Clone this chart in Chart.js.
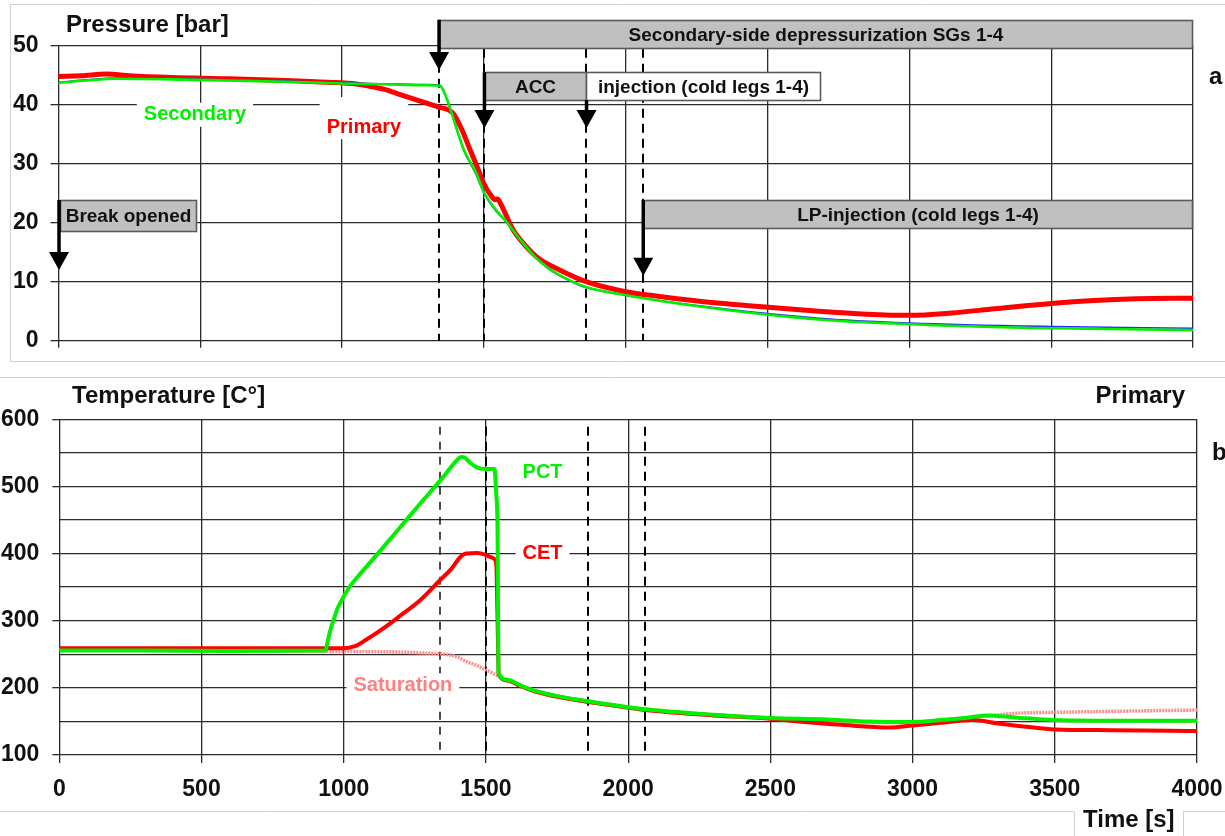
<!DOCTYPE html>
<html>
<head>
<meta charset="utf-8">
<title>Pressure / Temperature transient</title>
<script src="https://cdn.jsdelivr.net/npm/chart.js@4.4.1/dist/chart.umd.min.js"></script>
<style>
  html, body { margin: 0; padding: 0; background: #fff; }
  #wrap { position: relative; width: 1225px; height: 836px; overflow: hidden; }
  #wrap canvas { position: absolute; left: 0; }
</style>
</head>
<body>
<div id="wrap">
  <canvas id="pressChart" width="1225" height="370" style="top:0"></canvas>
  <canvas id="tempChart" width="1225" height="466" style="top:370px"></canvas>
</div>
<script>
// ---- axis ticks ----
const timeTicks = [0, 500, 1000, 1500, 2000, 2500, 3000, 3500, 4000];
const pressTicks = [0, 10, 20, 30, 40, 50];
const tempTicks = [100, 150, 200, 250, 300, 350, 400, 450, 500, 550, 600];
const tempTickLabels = ['100', '', '200', '', '300', '', '400', '', '500', '', '600'];

// ---- events [s] ----
const eventTimes = [1340, 1500, 1860, 2060];

// ---- (a) pressure [bar] ----
const primTime = [0, 80, 170, 250, 400, 600, 800, 950, 1050, 1090, 1150, 1205, 1275, 1340, 1390, 1420, 1450, 1480, 1500,
  1525, 1540, 1548, 1558, 1575, 1600, 1630, 1670, 1700, 1770, 1860, 2000, 2120, 2260, 2470, 2680, 2850, 3000,
  3150, 3300, 3500, 3650, 3800, 4000];
const primP = [44.8, 44.9, 45.2, 44.9, 44.6, 44.4, 44.1, 43.8, 43.5, 43.2, 42.6, 41.7, 40.6, 39.6, 38.6, 36, 32.5, 29, 26.6,
  24.6, 23.9, 24.0, 23.3, 21.6, 19, 17, 14.9, 13.7, 11.9, 10, 8.3, 7.5, 6.7, 5.8, 5, 4.5, 4.3,
  4.7, 5.4, 6.3, 6.8, 7.1, 7.2];

const secTime = [0, 100, 200, 400, 600, 800, 1000, 1200, 1300, 1345, 1355, 1365, 1380, 1400, 1430, 1470, 1500, 1540,
  1575, 1630, 1680, 1730, 1800, 1860, 2000, 2260, 2680, 3000, 3500, 4000];
const secP = [43.7, 44.1, 44.4, 44.3, 44.1, 43.9, 43.6, 43.4, 43.3, 43.2, 42.6, 41.5, 39.5, 36.5, 32.3, 28.7, 25.2, 22.3,
  20.4, 17, 14.2, 12.2, 10.3, 9.1, 7.7, 5.8, 3.6, 2.8, 2.1, 1.8];
const blueP = [43.8, 44.2, 44.5, 44.4, 44.2, 44.0, 43.7, 43.5, 43.4, 43.3, 42.7, 41.6, 39.6, 36.4, 32.1, 28.4, 25.0, 22.1,
  20.3, 16.9, 14.1, 12.1, 10.2, 9.0, 7.7, 5.9, 3.8, 3.0, 2.4, 2.1];

// ---- (b) temperature [C] ----
const pctTime = [0, 300, 600, 935, 945, 955, 965, 980, 1000, 1022, 1050, 1081, 1140, 1200, 1270, 1340, 1400, 1412, 1425,
  1445, 1470, 1500, 1530, 1536, 1541, 1544, 1575, 1620, 1670, 1760, 1860, 2060, 2300, 2500, 2700, 2840,
  3000, 3100, 3200, 3260, 3360, 3500, 3700, 4000];
const pctT = [255.5, 255.5, 255, 255.5, 272, 289, 302, 320, 336, 351, 366, 381, 410, 440, 475, 509, 540, 544, 543,
  535, 528, 526, 526, 490, 430, 222, 212, 204, 196, 187, 180, 168, 160, 155, 153, 150,
  149, 152, 156, 159, 156, 152, 151, 151];

const cetTime = [0, 300, 600, 950, 1000, 1040, 1080, 1120, 1160, 1200, 1270, 1340, 1380, 1410, 1430, 1470, 1500, 1515,
  1532, 1537, 1541, 1545, 1575, 1620, 1670, 1760, 1860, 2060, 2300, 2500, 2600, 2750, 2920, 3000, 3100,
  3210, 3300, 3400, 3500, 3700, 3900, 4000];
const cetT = [259, 259, 259, 259, 259, 262, 272, 283, 295, 308, 331, 361, 378, 395, 400, 401, 398, 395,
  391, 380, 300, 220, 211, 203, 195, 186, 179, 167, 159, 154, 150, 145, 141, 144, 148,
  152, 147, 142, 138, 137, 136, 135.7];

const satTime = [0, 1000, 1100, 1270, 1374, 1400, 1432, 1470, 1500, 1538, 1545, 1575, 1620, 1670, 1760, 1860, 2060,
  2300, 2500, 2700, 2840, 3000, 3100, 3200, 3260, 3360, 3500, 3700, 4000];
const satT = [257, 254, 254, 252, 249, 246, 239, 233, 227, 219, 218, 212, 204, 196, 187, 180, 168,
  160, 155, 152, 148, 148, 152, 156, 158, 162, 163.6, 165, 167];

const FONT = '"Liberation Sans", Arial, Helvetica, sans-serif';
const GRID = '#2b2b2b';

function toPoints(times, values) {
  return times.map((t, i) => ({ x: t, y: values[i] }));
}

// frames, titles, event lines, annotation boxes, curve labels
const decorPlugin = {
  id: 'decor',
  beforeDraw(chart, args, opts) {
    const ctx = chart.ctx;
    ctx.save();
    ctx.strokeStyle = '#d2d2d2';
    ctx.lineWidth = 1;
    (opts.frame || []).forEach(s => {
      ctx.beginPath();
      ctx.moveTo(s[0], s[1]);
      ctx.lineTo(s[2], s[3]);
      ctx.stroke();
    });
    ctx.restore();
  },
  beforeDatasetsDraw(chart, args, opts) {
    const { ctx, scales: { x, y } } = chart;
    ctx.save();
    (opts.eventLines || []).forEach(ev => {
      const px = Math.round(x.getPixelForValue(ev.t));
      ctx.beginPath();
      ctx.setLineDash(ev.dash);
      ctx.lineWidth = ev.width;
      ctx.strokeStyle = '#000';
      ctx.moveTo(px, y.getPixelForValue(ev.from));
      ctx.lineTo(px, y.getPixelForValue(ev.to));
      ctx.stroke();
    });
    ctx.setLineDash([]);

    ctx.font = 'bold 20px ' + FONT;
    ctx.textAlign = 'center';
    ctx.textBaseline = 'middle';
    (opts.curveLabels || []).forEach(lb => {
      const cx = x.getPixelForValue(lb.t);
      const cy = y.getPixelForValue(lb.v);
      const w = ctx.measureText(lb.text).width;
      ctx.fillStyle = '#fff';
      ctx.fillRect(cx - w / 2 - 7, cy - lb.padTop, w + 14, lb.padTop + 12);
      ctx.fillStyle = lb.color;
      ctx.fillText(lb.text, cx, cy);
    });
    ctx.restore();
  },
  afterDatasetsDraw(chart, args, opts) {
    const { ctx, scales: { x, y } } = chart;
    ctx.save();
    // annotation boxes
    ctx.font = 'bold 19px ' + FONT;
    ctx.textAlign = 'center';
    ctx.textBaseline = 'middle';
    (opts.boxes || []).forEach(b => {
      const x0 = Math.round(x.getPixelForValue(b.t0)) + 0.5;
      const x1 = Math.round(x.getPixelForValue(b.t1)) + 0.5;
      const y0 = Math.round(y.getPixelForValue(b.v0)) + 0.5;
      const y1 = Math.round(y.getPixelForValue(b.v1)) + 0.5;
      ctx.fillStyle = b.fill;
      ctx.fillRect(x0, y0, x1 - x0, y1 - y0);
      ctx.strokeStyle = '#5a5a5a';
      ctx.lineWidth = 1.6;
      ctx.strokeRect(x0, y0, x1 - x0, y1 - y0);
      ctx.fillStyle = '#111';
      ctx.fillText(b.text, (x0 + x1) / 2, (y0 + y1) / 2 + 1);
    });
    // arrows
    ctx.fillStyle = '#000';
    ctx.strokeStyle = '#000';
    (opts.arrows || []).forEach(a => {
      const px = x.getPixelForValue(a.t) + 0.5;
      const top = y.getPixelForValue(a.from);
      const tip = y.getPixelForValue(a.to);
      ctx.lineWidth = 3.5;
      ctx.beginPath();
      ctx.moveTo(px, top);
      ctx.lineTo(px, tip - 14);
      ctx.stroke();
      ctx.beginPath();
      ctx.moveTo(px - 10, tip - 18);
      ctx.lineTo(px + 10, tip - 18);
      ctx.lineTo(px, tip);
      ctx.closePath();
      ctx.fill();
    });
    // titles
    ctx.textBaseline = 'alphabetic';
    ctx.fillStyle = '#111';
    (opts.titles || []).forEach(tt => {
      ctx.font = 'bold 24px ' + FONT;
      ctx.textAlign = tt.align;
      ctx.fillText(tt.text, tt.x, tt.y);
    });
    ctx.restore();
  }
};

const tickFont = { family: FONT, size: 23, weight: 'bold' };
const fitX = h => s => { s.height = h; s.paddingLeft = 0; s.paddingRight = 0; };

// ---- (a) pressure chart ----
new Chart(document.getElementById('pressChart'), {
  type: 'line',
  data: {
    datasets: [
      { label: 'Secondary', data: toPoints(secTime, secP), borderColor: '#00f000', borderWidth: 2.6 },
      { label: 'Secondary (2)', data: toPoints(secTime, blueP), borderColor: '#2a2aff', borderWidth: 1.6 },
      { label: 'Primary', data: toPoints(primTime, primP), borderColor: '#ff0000', borderWidth: 5 }
    ]
  },
  plugins: [decorPlugin],
  options: {
    responsive: false,
    animation: false,
    events: [],
    layout: { padding: { top: 45.7, right: 32, left: 0, bottom: 0 } },
    elements: { point: { radius: 0 }, line: { cubicInterpolationMode: 'monotone', borderCapStyle: 'round' } },
    plugins: {
      legend: { display: false },
      tooltip: { enabled: false },
      decor: {
        frame: [[10, 4.5, 1225, 4.5], [10.5, 4.5, 10.5, 361.5], [10, 361.5, 1225, 361.5]],
        eventLines: eventTimes.map(t => ({ t, from: 49.5, to: 0, dash: [9, 6], width: 2 })),
        curveLabels: [
          { text: 'Secondary', t: 481, v: 38.3, color: '#00f000', padTop: 12 },
          { text: 'Primary', t: 1077, v: 36.2, color: '#ff0000', padTop: 30 }
        ],
        boxes: [
          { text: 'Secondary-side depressurization SGs 1-4', t0: 1340, t1: 3996, v0: 54.4, v1: 49.6, fill: '#c0c0c0' },
          { text: 'ACC', t0: 1500, t1: 1860, v0: 45.5, v1: 40.8, fill: '#c0c0c0' },
          { text: 'injection (cold legs 1-4)', t0: 1860, t1: 2685, v0: 45.5, v1: 40.8, fill: '#ffffff' },
          { text: 'Break opened', t0: 5, t1: 485, v0: 23.85, v1: 18.6, fill: '#c0c0c0' },
          { text: 'LP-injection (cold legs 1-4)', t0: 2060, t1: 3996, v0: 23.85, v1: 19.1, fill: '#c0c0c0' }
        ],
        arrows: [
          { t: 1340, from: 54.4, to: 45.9 },
          { t: 1500, from: 45.5, to: 36.05 },
          { t: 1860, from: 40.8, to: 36.05 },
          { t: 0, from: 23.85, to: 12.0 },
          { t: 2060, from: 23.85, to: 11.0 }
        ],
        titles: [
          { text: 'Pressure [bar]', x: 66, y: 31.5, align: 'left' },
          { text: 'a', x: 1209, y: 84, align: 'left' }
        ]
      }
    },
    scales: {
      x: {
        type: 'linear', min: 0, max: 4000,
        afterBuildTicks: s => { s.ticks = timeTicks.map(v => ({ value: v })); },
        afterFit: fitX(370 - 340.7),
        ticks: { display: false, autoSkip: false },
        grid: { color: GRID, lineWidth: 1.3, tickLength: 7, tickColor: GRID },
        border: { display: false }
      },
      y: {
        min: 0, max: 50,
        afterBuildTicks: s => { s.ticks = pressTicks.map(v => ({ value: v })); },
        afterFit: s => { s.width = 58.5; },
        ticks: { font: tickFont, color: '#111', padding: 12, autoSkip: false },
        grid: { color: GRID, lineWidth: 1.3, tickLength: 8, tickColor: GRID },
        border: { display: false }
      }
    }
  }
});

// ---- (b) temperature chart ----
new Chart(document.getElementById('tempChart'), {
  type: 'line',
  data: {
    datasets: [
      { label: 'PCT', data: toPoints(pctTime, pctT), borderColor: '#00f000', borderWidth: 4 },
      { label: 'CET', data: toPoints(cetTime, cetT), borderColor: '#ff0000', borderWidth: 4 },
      { label: 'Saturation', data: toPoints(satTime, satT), borderColor: '#ff8c8c', borderWidth: 3.5, borderDash: [2, 1] }
    ]
  },
  plugins: [decorPlugin],
  options: {
    responsive: false,
    animation: false,
    events: [],
    layout: { padding: { top: 49.3, right: 28, left: 0, bottom: 0 } },
    elements: { point: { radius: 0 }, line: { cubicInterpolationMode: 'monotone' } },
    plugins: {
      legend: { display: false },
      tooltip: { enabled: false },
      decor: {
        frame: [[0, 7.5, 1225, 7.5], [0, 441.5, 1074, 441.5], [1183, 441.5, 1225, 441.5],
                [1074.5, 441.5, 1074.5, 466], [1183.5, 441.5, 1183.5, 466]],
        eventLines: [
          { t: eventTimes[0], from: 589, to: 100, dash: [8, 7], width: 1.4 },
          { t: eventTimes[1], from: 589, to: 100, dash: [9, 6], width: 2 },
          { t: eventTimes[2], from: 589, to: 100, dash: [9, 6], width: 2 },
          { t: eventTimes[3], from: 589, to: 100, dash: [9, 6], width: 2 }
        ],
        curveLabels: [
          { text: 'PCT', t: 1699, v: 521.2, color: '#00f000', padTop: 13 },
          { text: 'CET', t: 1699, v: 399.5, color: '#ff0000', padTop: 20 },
          { text: 'Saturation', t: 1208, v: 203.7, color: '#ff8080', padTop: 12 }
        ],
        titles: [
          { text: 'Temperature [C°]', x: 72, y: 33.3, align: 'left' },
          { text: 'Primary', x: 1185, y: 33.3, align: 'right' },
          { text: 'b', x: 1212, y: 90, align: 'left' },
          { text: 'Time [s]', x: 1083, y: 457, align: 'left' }
        ]
      }
    },
    scales: {
      x: {
        type: 'linear', min: 0, max: 4000,
        afterBuildTicks: s => { s.ticks = timeTicks.map(v => ({ value: v })); },
        afterFit: fitX(81),
        ticks: { font: tickFont, color: '#111', padding: 13, autoSkip: false, maxRotation: 0,
                 callback: v => String(v) },
        grid: { color: GRID, lineWidth: 1.3, tickLength: 8, tickColor: GRID },
        border: { display: false }
      },
      y: {
        min: 100, max: 600,
        afterBuildTicks: s => { s.ticks = tempTicks.map(v => ({ value: v })); },
        afterFit: s => { s.width = 59.3; },
        ticks: {
          font: tickFont, color: '#111', padding: 13, autoSkip: false,
          callback: (v, i) => tempTickLabels[i]
        },
        grid: {
          color: GRID, lineWidth: 1.3, tickLength: 7,
          tickColor: c => (tempTickLabels[c.index] ? GRID : 'rgba(0,0,0,0)')
        },
        border: { display: false }
      }
    }
  }
});
</script>
</body>
</html>
